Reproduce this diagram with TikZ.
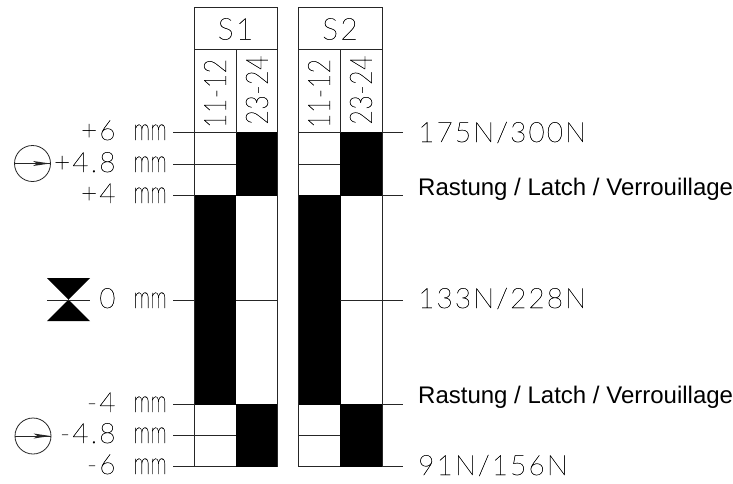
\documentclass[tikz,border=0pt]{standalone}
\usepackage{fontspec}
\setmainfont{Liberation Sans}
\newfontfamily\cad[LetterSpace=7.5]{Lato Hairline}[FakeBold=0.6]
\newfontfamily\cadc[FakeStretch=0.8,LetterSpace=2,FakeBold=0.6]{Lato Hairline}
\newfontfamily\cadm[FakeStretch=0.68,FakeBold=0.6]{Lato Hairline}
\newcommand{\unitmm}[1]{#1\hspace{18pt}{\cadm\fontsize{31}{31}\selectfont mm}}
\begin{document}
\begin{tikzpicture}[x=1pt,y=-1pt,
  ln/.style={line width=0.9pt,black!85},
  blk/.style={fill=black},
  cadtxt/.style={inner sep=0pt,font=\cad\fontsize{28}{28}\selectfont},
  hdr/.style={inner sep=0pt,font=\cad\fontsize{30}{30}\selectfont},
  col/.style={inner sep=0pt,rotate=90,font=\cadc\fontsize{31}{31}\selectfont},
  lat/.style={inner sep=0pt,anchor=west,font=\fontsize{24}{24}\selectfont},
  sym/.style={circle,draw,line width=0.8pt,black!85,minimum size=36pt,inner sep=0pt}]
\useasboundingbox (0,0) rectangle (733,483);
% fills
\fill[blk] (236,132) rectangle (278,196);
\fill[blk] (193.5,195) rectangle (236,404.5);
\fill[blk] (236,403.5) rectangle (278,467);
\fill[blk] (340,132) rectangle (382.5,196);
\fill[blk] (297.5,195) rectangle (340.5,404.5);
\fill[blk] (340,403.5) rectangle (382.5,467);
% frames
\draw[ln] (194,466.5) -- (194,7) -- (277.5,7) -- (277.5,466.5);
\draw[ln] (194,49.5) -- (277.5,49.5);
\draw[ln] (236,49.5) -- (236,132.5);
\draw[ln] (298,466.5) -- (298,7) -- (382,7) -- (382,466.5);
\draw[ln] (298,49.5) -- (382,49.5);
\draw[ln] (340,49.5) -- (340,132.5);
% named tick ends
\coordinate (t1) at (173,132.5); \coordinate (t1e) at (236,132.5);
\coordinate (t2) at (173,164); \coordinate (t2e) at (236,164);
\coordinate (t3) at (173,195.5); \coordinate (t3e) at (194,195.5);
\coordinate (t4) at (173,300); \coordinate (t4e) at (194,300);
\coordinate (t5) at (173,404); \coordinate (t5e) at (194,404);
\coordinate (t6) at (173,435); \coordinate (t6e) at (236,435);
\coordinate (t7) at (173,466.5); \coordinate (t7e) at (236,466.5);
\foreach \n in {1,...,7} {\draw[ln] (t\n) -- (t\n e);}
\draw[ln] (236,300) -- (277.5,300);
% S2 ticks
\draw[ln] (298,132.5) -- (340,132.5);
\draw[ln] (298,164) -- (340,164);
\draw[ln] (298,435) -- (340,435);
\draw[ln] (298,466.5) -- (340,466.5);
\draw[ln] (340,300) -- (403,300);
\draw[ln] (382,132.5) -- (403,132.5);
\draw[ln] (382,195.5) -- (403,195.5);
\draw[ln] (382,404) -- (403,404);
\draw[ln] (382,466.5) -- (403,466.5);
% headers
\node[hdr] (s1) at (235.5,29) {S1};
\node[hdr] (s2) at (340,29) {S2};
\node[col] (a1) at (215,93.5) {11-12};
\node[col] (a2) at (257,90) {23-24};
\node[col] (a3) at (319,93.5) {11-12};
\node[col] (a4) at (361,90) {23-24};
% left labels
\node[cadtxt,anchor=base east] (l1) at (167,140) {\unitmm{+6}};
\node[cadtxt,anchor=base east] (l2) at (167,172) {\unitmm{+4.8}};
\node[cadtxt,anchor=base east] (l3) at (167,203) {\unitmm{+4}};
\node[cadtxt,anchor=base east] (l4) at (167,308) {\unitmm{0}};
\node[cadtxt,anchor=base east] (l5) at (167,412) {\unitmm{-4}};
\node[cadtxt,anchor=base east] (l6) at (167,443) {\unitmm{-4.8}};
\node[cadtxt,anchor=base east] (l7) at (167,474) {\unitmm{-6}};
% right labels
\node[cadtxt,anchor=base west] (r1) at (418,142) {175N/300N};
\node[cadtxt,anchor=base west] (r2) at (418,308) {133N/228N};
\node[cadtxt,anchor=base west] (r3) at (418,475) {91N/156N};
\node[lat,anchor=base west] (r4) at (418,195) {Rastung / Latch / Verrouillage};
\node[lat,anchor=base west] (r5) at (418,403) {Rastung / Latch / Verrouillage};
% symbols
\node[sym] (c1) at (32.5,163.5) {};
\node[sym] (c2) at (33,436) {};
\draw[ln] (c1.west) -- (c1.east);
\draw[ln] (c2.west) -- (c2.east);
\fill[black!85] (50,163.5) -- (33,161) -- (37,163.5) -- (33,166) -- cycle;
\fill[black!85] (50.5,436) -- (33.5,433.5) -- (37.5,436) -- (33.5,438.5) -- cycle;
\fill[black] (47,278) -- (90,278) -- (47,321) -- (90,321) -- cycle;
\draw[ln] (47,300) -- (90,300);
\end{tikzpicture}
\end{document}
